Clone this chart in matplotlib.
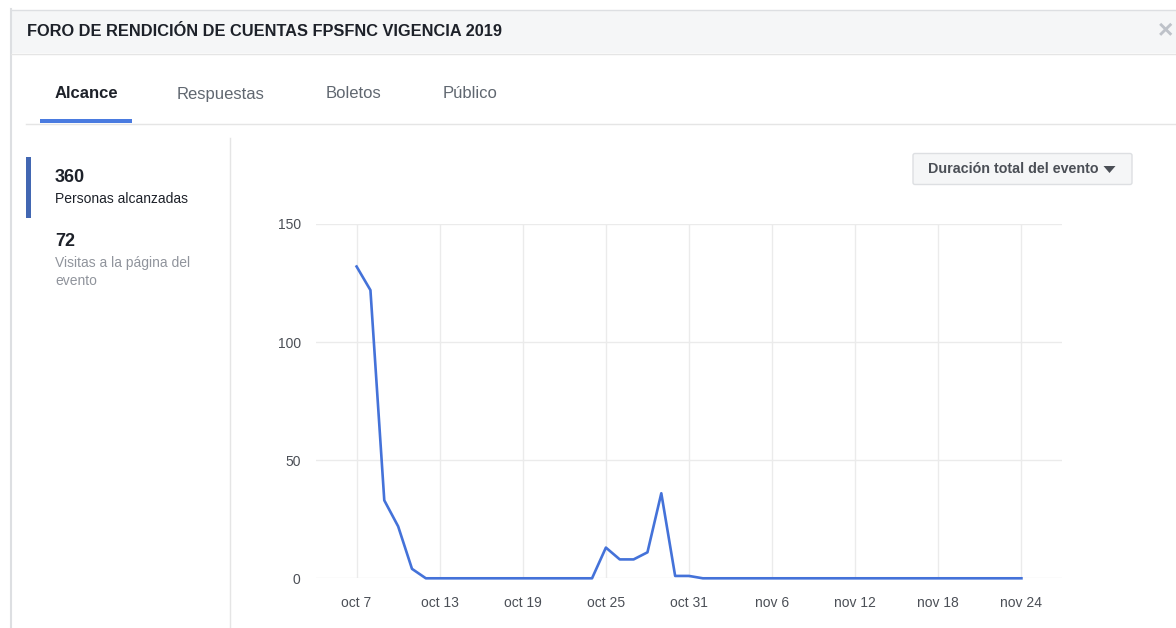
import matplotlib
matplotlib.use('Agg')
import matplotlib.pyplot as plt
from matplotlib.patches import Rectangle, FancyBboxPatch
import pandas as pd

plt.rcParams['font.family'] = ['Liberation Sans', 'DejaVu Sans']

# data (daily reach, oct 7 - nov 24)
dates = pd.date_range('2019-10-07', '2019-11-24', freq='D')
reach = [132, 122, 33, 22, 4, 0, 0, 0, 0, 0, 0, 0, 0, 0, 0, 0, 0, 0,
         13, 8, 8, 11, 36, 1, 1,
         0, 0, 0, 0, 0, 0, 0, 0, 0, 0, 0, 0, 0, 0, 0, 0, 0, 0, 0, 0, 0, 0, 0, 0]
tick_dates = pd.date_range('2019-10-07', '2019-11-24', freq='6D')
tick_labels = ['oct 7', 'oct 13', 'oct 19', 'oct 25', 'oct 31',
               'nov 6', 'nov 12', 'nov 18', 'nov 24']
y_ticks = [0, 50, 100, 150]

title = 'FORO DE RENDICIÓN DE CUENTAS FPSFNC VIGENCIA 2019'
tabs = ['Alcance', 'Respuestas', 'Boletos', 'Público']
tab_x = [55, 177, 326, 443]

W, H = 1176, 628
fig = plt.figure(figsize=(W / 100, H / 100), dpi=100)
fig.patch.set_facecolor('white')

# background layer in pixel coords
bg = fig.add_axes([0, 0, 1, 1])
bg.set_xlim(0, W)
bg.set_ylim(H, 0)
bg.axis('off')

# dialog frame + header
bg.add_patch(Rectangle((11, 10), W - 11, 43, facecolor='#f5f6f7', edgecolor='none'))
bg.plot([10.5, 10.5], [9, H], color='#dddfe2', lw=1.5)
bg.plot([10.5, W], [9.5, 9.5], color='#dddfe2', lw=1)
bg.plot([11, W], [53.5, 53.5], color='#e5e5e5', lw=1)
bg.text(27, 31, title, fontsize=11.8, fontweight='bold', color='#1d2129',
        va='center', ha='left')
bg.text(1166, 31, '×', fontsize=19, color='#bec2c9', va='center', ha='center',
        fontweight='bold')

# tabs
for name, x in zip(tabs, tab_x):
    active = name == 'Alcance'
    bg.text(x, 94, name, fontsize=12, va='center', ha='left',
            fontweight='bold' if active else 'normal',
            color='#1d2129' if active else '#606770')
bg.plot([26, W], [124, 124], color='#e5e5e5', lw=1)
bg.add_patch(Rectangle((40, 118.5), 92, 4.5, facecolor='#4a7be0', edgecolor='none'))

# left summary panel
bg.plot([229.5, 229.5], [138, H], color='#e5e5e5', lw=1)
bg.add_patch(Rectangle((26, 157), 4.5, 61, facecolor='#4267b2', edgecolor='none'))
bg.text(55, 178, '360', fontsize=13, fontweight='bold', color='#1d2129', va='center')
bg.text(55, 199, 'Personas alcanzadas', fontsize=10, color='#1d2129', va='center')
bg.text(55, 242, '72', fontsize=13, fontweight='bold', color='#1d2129', va='center')
bg.text(55, 263, 'Visitas a la página del', fontsize=10, color='#90949c', va='center')
bg.text(55, 281, 'evento', fontsize=10, color='#90949c', va='center')

# dropdown button
bg.add_patch(FancyBboxPatch((913, 153.5), 219, 31, boxstyle='round,pad=0,rounding_size=2',
                            facecolor='#f5f6f7', edgecolor='#dddfe2', linewidth=1))
bg.text(928, 169, 'Duración total del evento', fontsize=10.3, fontweight='bold',
        color='#4b4f56', va='center', ha='left')
bg.fill([1103.5, 1115.5, 1109.5], [166, 166, 173], color='#4b4f56', lw=0)

# chart area
left, right, top, bottom = 316, 1062, 224, 578.3
ax = fig.add_axes([left / W, (H - bottom) / H, (right - left) / W, (bottom - top) / H])
ax.patch.set_alpha(0)
ax.plot(dates, reach, color='#4472d9', lw=1.9, clip_on=False, zorder=3)

pad = pd.Timedelta(days=2.93)
ax.set_xlim(dates[0] - pad, dates[-1] + pad)
ax.set_ylim(0, 150)
ax.set_xticks(tick_dates)
ax.set_xticklabels(tick_labels)
ax.set_yticks(y_ticks)
ax.set_yticklabels([str(v) for v in y_ticks])

ax.grid(True, color='#ebebeb', lw=1)
ax.set_axisbelow(True)
for s in ax.spines.values():
    s.set_visible(False)
ax.tick_params(axis='both', length=0, labelsize=10, labelcolor='#4b4f56')
ax.tick_params(axis='x', pad=13)
ax.tick_params(axis='y', pad=11)

fig.savefig('out.png', dpi=100)
